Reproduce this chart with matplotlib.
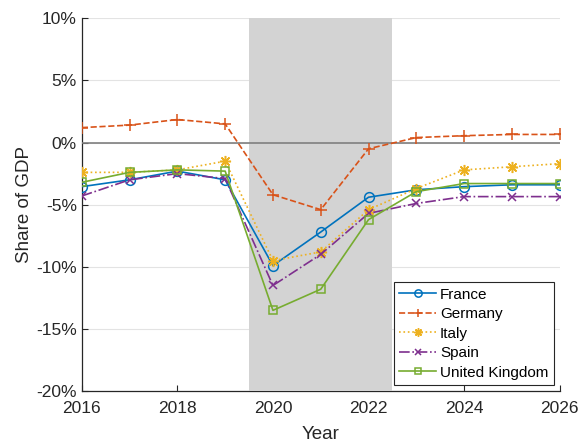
import matplotlib
matplotlib.use("Agg")
import matplotlib.pyplot as plt
from matplotlib.ticker import FuncFormatter

plt.rcParams['font.family'] = ['Liberation Sans', 'DejaVu Sans']

years = [2016, 2017, 2018, 2019, 2020, 2021, 2022, 2023, 2024, 2025, 2026]
france = [-3.55, -3.0, -2.3, -3.0, -9.9, -7.2, -4.4, -3.8, -3.55, -3.4, -3.4]
germany = [1.2, 1.4, 1.85, 1.5, -4.2, -5.4, -0.5, 0.4, 0.55, 0.65, 0.65]
italy = [-2.4, -2.4, -2.2, -1.5, -9.5, -8.8, -5.4, -3.7, -2.2, -1.95, -1.7]
spain = [-4.3, -3.0, -2.5, -2.9, -11.5, -9.0, -5.7, -4.9, -4.35, -4.35, -4.35]
uk = [-3.2, -2.4, -2.2, -2.3, -13.5, -11.8, -6.2, -3.95, -3.3, -3.3, -3.3]

series = [
    ("France", france, "#0072BD", "-", "o", 7),
    ("Germany", germany, "#D95319", "--", "+", 8),
    ("Italy", italy, "#EDB120", ":", (8, 2, 0), 8),
    ("Spain", spain, "#7E2F8E", "-.", "x", 5.5),
    ("United Kingdom", uk, "#77AC30", "-", "s", 6),
]

fig = plt.figure(figsize=(5.8, 4.44), dpi=100)
ax = fig.add_axes([0.141, 0.119, 0.824, 0.84])

ax.set_xlim(2016, 2026)
ax.set_ylim(-20, 10)
ax.set_yticks([-20, -15, -10, -5, 0, 5, 10])
ax.set_xticks([2016, 2018, 2020, 2022, 2024, 2026])
ax.yaxis.set_major_formatter(FuncFormatter(lambda v, p: f"{int(v)}%".replace("\u2212", "-")))

ax.grid(axis='y', color='#e3e3e3', linewidth=0.8, zorder=0)
ax.set_axisbelow(True)

ax.axvspan(2019.5, 2022.5, color='#d3d3d3', zorder=3, linewidth=0)
ax.axhline(0, color='#808080', linewidth=1.2, zorder=3.5)

for name, vals, c, ls, m, ms in series:
    mfc = 'none' if m in ('o', 's') else c
    ax.plot(years, vals, color=c, linestyle=ls, marker=m, markersize=ms,
            markerfacecolor=mfc, markeredgecolor=c, linewidth=1.2, label=name,
            markeredgewidth=1.1, zorder=4)

for s in ['top', 'right']:
    ax.spines[s].set_visible(False)
for s in ['left', 'bottom']:
    ax.spines[s].set_color('#262626')
    ax.spines[s].set_linewidth(0.9)

ax.tick_params(direction='in', length=4, width=0.8, colors='#262626', labelsize=12.5)
ax.tick_params(axis='x', pad=7)
ax.set_xlabel("Year", fontsize=13.5, color='#262626', labelpad=7)
ax.set_ylabel("Share of GDP", fontsize=13.5, color='#262626', labelpad=2)

leg = ax.legend(loc='lower right', fontsize=11, fancybox=False, framealpha=1,
                edgecolor='#262626', handlelength=2.4, handletextpad=0.25,
                borderpad=0.35, labelspacing=0.36, borderaxespad=0.4,
                markerscale=0.75)
leg.get_frame().set_linewidth(0.8)
leg.set_zorder(5)

fig.savefig("out.png", dpi=100)
